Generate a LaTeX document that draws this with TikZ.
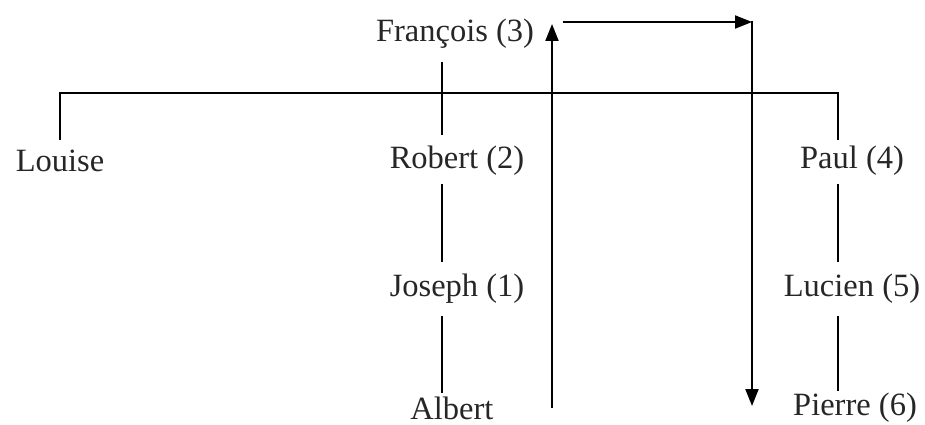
\documentclass[tikz,border=0pt]{standalone}
\usepackage{fontspec}
\setmainfont{Liberation Serif}
\usetikzlibrary{arrows.meta}
\begin{document}
\begin{tikzpicture}[x=1pt,y=-1pt,
  every node/.style={font=\fontsize{32.5}{36}\selectfont, inner sep=0pt, text=black!85},
  link/.style={line width=2pt},
  arr/.style={line width=2pt, -{Triangle[length=17pt,width=13pt]}}]
\useasboundingbox (0,0) rectangle (925,425);
\node (fr) at (455,34) {François (3)};
\node (lo) at (60,161) {Louise};
\node (ro) at (457,161) {Robert (2)};
\node (pa) at (852,161) {Paul (4)};
\node (jo) at (457,289) {Joseph (1)};
\node (lu) at (852,289) {Lucien (5)};
\node (al) at (452,408) {Albert};
\node (pi) at (855,408) {Pierre (6)};
% tree coordinates
\coordinate (frb) at (442,62);
\coordinate (rot) at (442,135);
\coordinate (rob) at (442,184);
\coordinate (jot) at (442,262);
\coordinate (job) at (442,316);
\coordinate (alt) at (442,393);
\coordinate (lot) at (60,140);
\coordinate (pat) at (838,140);
\coordinate (pab) at (838,184);
\coordinate (lut) at (838,262);
\coordinate (lub) at (838,316);
\coordinate (pit) at (838,391);
\draw[link] (frb) -- (rot);
\draw[link] (lot) -- (60,93) -- (838,93) -- (pat);
\draw[link] (rob) -- (jot);
\draw[link] (job) -- (alt);
\draw[link] (pab) -- (lut);
\draw[link] (lub) -- (pit);
% arrows
\coordinate (up0) at (552,408);
\coordinate (up1) at (552,24);
\coordinate (h0) at (563,22);
\coordinate (h1) at (752,22);
\coordinate (d0) at (752,21);
\coordinate (d1) at (752,406);
\draw[arr] (up0) -- (up1);
\draw[arr] (h0) -- (h1);
\draw[arr] (d0) -- (d1);
\end{tikzpicture}
\end{document}
